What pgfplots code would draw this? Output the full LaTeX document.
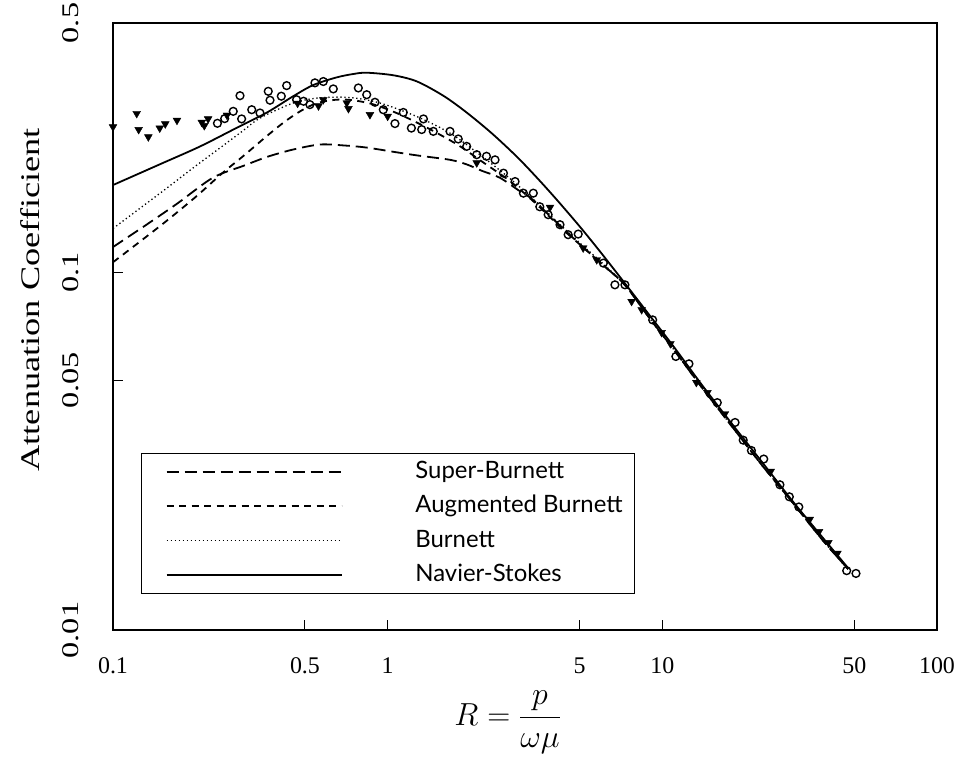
\RequirePackage{fix-cm}
\documentclass[border=0pt]{standalone}
\usepackage{amsmath}
\usepackage{pgfplots}
\pgfplotsset{compat=1.18}
\usepackage{fontspec}
\setmainfont{Liberation Serif}
\newfontfamily\tallfont[FakeStretch=1.35]{Liberation Serif}
\newfontfamily\legfont{Lato}

\begin{document}
\begin{tikzpicture}
\useasboundingbox (0,0) rectangle (963bp,-759bp);
\begin{axis}[
    at={(113bp,-630bp)}, anchor=south west,
    scale only axis, width=824bp, height=607bp,
    xmode=log, ymode=log,
    xmin=0.1, xmax=100, ymin=0.01, ymax=0.5,
    axis line style={line width=1.5bp},
    tick align=inside, xtick pos=left, ytick pos=left,
    major tick length=10bp,
    every tick/.style={black, line width=1bp},
    minor x tick num=0, minor y tick num=0,
    xtick={0.1,0.5,1,5,10,50,100},
    xticklabels={\mbox{0.1},\mbox{0.5},\mbox{1},\mbox{5},\mbox{10},\mbox{50},\mbox{100}},
    ytick={0.01,0.05,0.1,0.5},
    yticklabels={\mbox{0.01},\mbox{0.05},\mbox{0.1},\mbox{0.5}},
    xticklabel style={font=\fontsize{24}{24}\selectfont, yshift=-24bp},
    yticklabel style={font=\tallfont\fontsize{24}{24}\selectfont, xshift=-31bp, rotate=90, anchor=south},
    xlabel={\fontsize{32}{32}\selectfont $R=\dfrac{p}{\omega\mu}$},
    xlabel style={at={(axis description cs:0.479,-0.152)}, anchor=center},
    ylabel={Attenuation Coefficient},
    ylabel style={font=\tallfont\fontsize{27}{27}\selectfont, at={(axis description cs:-0.101,0.544)}, anchor=center},
    legend style={at={(axis description cs:0.034,0.059)}, anchor=south west,
        draw=black, line width=1.2bp, fill=white,
        inner xsep=12bp, inner ysep=7bp,
        font=\legfont\fontsize{24}{24}\selectfont,
        row sep=11.5bp,
        nodes={inner sep=0bp, text height=18bp, text depth=5bp}},
    legend cell align=left,
    /tikz/every odd column/.append style={column sep=73bp},
    legend image code/.code={\path (0bp,0bp); \draw[#1] (12bp,0bp) -- (187bp,0bp);},
]
% Super-Burnett
\addplot[black, line width=1.8bp, dash pattern=on 12bp off 6bp, smooth] coordinates {
(0.1,0.118) (0.13,0.135) (0.171,0.156) (0.231,0.1845) (0.3,0.1995) (0.364,0.211)
(0.45,0.221) (0.567,0.2285) (0.7,0.227) (0.84,0.224) (1.05,0.218) (1.28,0.213)
(1.69,0.207) (1.94,0.201) (2.2,0.193) (2.56,0.1845) (3,0.170) (3.38,0.160)
(4.2,0.1365) (5.14,0.118) (6,0.106) (7.3,0.0925) (9,0.0745) (11,0.061)
(14,0.0475) (18,0.037) (23,0.029) (30,0.0226) (38,0.018) (47.5,0.0148)};
\addlegendentry{Super-Burnett}
% Augmented Burnett
\addplot[black, line width=1.8bp, dash pattern=on 7bp off 5.5bp, smooth] coordinates {
(0.1,0.107) (0.15,0.136) (0.2,0.163) (0.25,0.19) (0.3,0.213) (0.36,0.24)
(0.42,0.264) (0.48,0.283) (0.55,0.298) (0.65,0.305) (0.75,0.304) (0.9,0.295)
(1.1,0.278) (1.4,0.254) (1.8,0.228) (2.2,0.205) (2.8,0.18) (3.5,0.155)
(4.3,0.133) (5.2,0.117) (6,0.106) (7.3,0.0925) (9,0.0745) (11,0.061)
(14,0.0475) (18,0.037) (23,0.029) (30,0.0226) (38,0.018) (47.5,0.0148)};
\addlegendentry{Augmented Burnett}
% Burnett
\addplot[black, line width=1.3bp, dash pattern=on 1.3bp off 2.7bp, smooth] coordinates {
(0.1,0.133) (0.15,0.168) (0.2,0.199) (0.25,0.226) (0.3,0.251) (0.343,0.271)
(0.45,0.298) (0.55,0.308) (0.7,0.31) (0.85,0.304) (1.0,0.294) (1.3,0.272)
(1.7,0.245) (2.2,0.212) (2.8,0.183) (3.5,0.157) (4.3,0.135) (5.2,0.118)
(6,0.107) (7.3,0.0925) (9,0.0745) (11,0.061) (14,0.0475) (18,0.037)
(23,0.029) (30,0.0226) (38,0.018) (47.5,0.0148)};
\addlegendentry{Burnett}
% Navier-Stokes
\addplot[black, line width=1.8bp, smooth] coordinates {
(0.1,0.176) (0.15,0.202) (0.207,0.2255) (0.28,0.2537) (0.364,0.281) (0.45,0.311)
(0.535,0.335) (0.65,0.352) (0.75,0.360) (0.84,0.363) (1.05,0.357) (1.28,0.343)
(1.6,0.3124) (1.94,0.2808) (2.4,0.2452) (2.96,0.2109) (3.5,0.1843) (4.13,0.160)
(5,0.1348) (5.93,0.1147) (7.3,0.0935) (9,0.0759) (11,0.0621) (14,0.0483)
(18,0.0376) (23,0.0296) (30,0.0228) (38,0.0183) (47.5,0.0149)};
\addlegendentry{Navier-Stokes}
% measured data, open circles
\addplot[only marks, mark=o, mark size=3.9bp, line width=1.4bp, black, forget plot] coordinates {
(0.24,0.262) (0.255,0.27) (0.29,0.313) (0.274,0.283) (0.294,0.2695) (0.32,0.286)
(0.343,0.28) (0.3675,0.322) (0.373,0.304) (0.4288,0.334) (0.41,0.312) (0.466,0.305)
(0.494,0.302) (0.521,0.2955) (0.5435,0.34) (0.583,0.343) (0.634,0.327) (0.782,0.329)
(0.839,0.315) (0.899,0.300) (0.964,0.286) (1.063,0.2615) (1.14,0.281) (1.22,0.254)
(1.35,0.2695) (1.33,0.2516) (1.466,0.2487) (1.686,0.2487) (1.807,0.2368) (1.94,0.2258)
(2.11,0.214) (2.29,0.2118) (2.46,0.207) (2.64,0.19) (2.91,0.18) (3.12,0.167)
(3.39,0.167) (3.58,0.153) (3.84,0.1454) (4.24,0.1363) (4.54,0.1278) (4.94,0.1283)
(6.1,0.1064) (6.72,0.0925) (7.31,0.0925) (9.22,0.0738) (11.2,0.0583) (12.5,0.0556)
(15.85,0.0433) (18.4,0.0381) (19.7,0.034) (21.1,0.0318) (23.4,0.0301) (26.8,0.0255)
(29,0.0236) (31.4,0.0221) (46.9,0.01466) (50.7,0.0144)};
% measured data, filled triangles
\addplot[only marks, mark=triangle*, mark size=4.5bp, black, forget plot,
    every mark/.append style={rotate=180}] coordinates {
(0.1,0.256) (0.122,0.279) (0.124,0.2516) (0.1345,0.240) (0.148,0.254) (0.155,0.261)
(0.171,0.267) (0.2105,0.2636) (0.222,0.2695) (0.215,0.258) (0.26,0.276) (0.47,0.298)
(0.56,0.293) (0.583,0.305) (0.71,0.2987) (0.72,0.288) (0.862,0.277) (1.0,0.274)
(2.11,0.203) (3.9,0.1525) (5.15,0.1173) (5.77,0.1087) (7.73,0.0831) (8.41,0.0788)
(9.94,0.068) (10.7,0.0633) (13.3,0.0493) (14.6,0.0462) (16.9,0.0403) (24.8,0.0278)
(34.4,0.0204) (37.2,0.01886) (40.2,0.01756) (43.4,0.0164)};
\end{axis}
\end{tikzpicture}
\end{document}
